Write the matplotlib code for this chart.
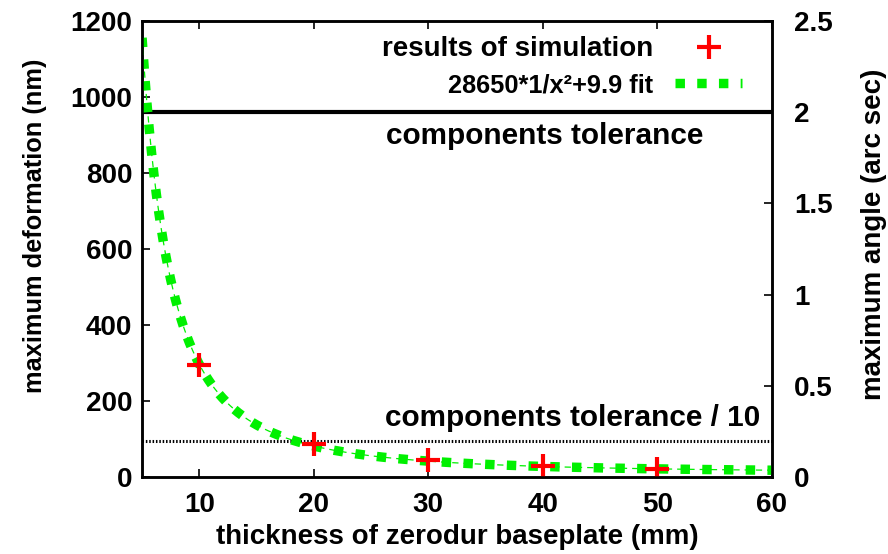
import numpy as np
import matplotlib
matplotlib.use("Agg")
import matplotlib.pyplot as plt

# simulation results
thickness_mm = [10, 20, 30, 40, 50]
deformation_nm = [295, 87, 45, 28, 21]

# fit reported in the legend: a/x^2 + b
fit_a = 28650
fit_b = 9.9
fit_range = (5, 60)

tolerance_nm = 960
nm_per_arcsec = 480

FS = 20
GREEN = "#00f000"
plt.rcParams.update({"font.family": ["Liberation Sans", "DejaVu Sans"],
                     "font.weight": "bold", "font.size": FS,
                     "axes.labelweight": "bold"})

fig = plt.figure(figsize=(8.88, 5.54), dpi=100)
ax = fig.add_axes([0.16, 0.139, 0.709, 0.823])

xf = np.linspace(fit_range[0], fit_range[1], 800)
yf = fit_a / xf**2 + fit_b

ax.axhline(tolerance_nm, color="black", linewidth=3, zorder=2)
ax.axhline(tolerance_nm / 10, color="black", linewidth=2.2,
           linestyle=(0, (0.5, 0.6)), zorder=2)
ax.text(40.2, tolerance_nm - 25, "components tolerance", ha="center", va="top",
        fontsize=21.4)
ax.text(59, tolerance_nm / 10 + 22, "components tolerance / 10",
        ha="right", va="bottom", fontsize=21.4)

ax.plot(xf, yf, color=GREEN, linewidth=0.9, linestyle=(0, (5, 4)), zorder=3)
ax.plot(xf, yf, color=GREEN, linewidth=6.8, linestyle=(0, (1, 1.3)),
        dash_capstyle="butt", zorder=3,
        label="28650*1/x\u00b2+9.9 fit")
ax.plot(thickness_mm, deformation_nm, "+", color="#ff0000", markersize=17,
        markeredgewidth=3, zorder=4, label="results of simulation")

ax.set_xlim(5, 60)
ax.set_ylim(0, 1200)
ax.set_xticks([10, 20, 30, 40, 50, 60])
ax.set_yticks(range(0, 1201, 200))
ax.tick_params(direction="in", length=6, width=1.2, top=True, right=False,
               pad=7)
ax.tick_params(axis="x", pad=11)
for s in ax.spines.values():
    s.set_linewidth(1.8)
ax.set_xlabel("thickness of zerodur baseplate (mm)", labelpad=4)
ax.set_ylabel("maximum deformation (nm)", fontsize=18.3)
ax.yaxis.set_label_coords(-0.151, 0.55)

ax2 = ax.twinx()
ax2.set_ylim(0, 1200 / nm_per_arcsec)
ax2.set_yticks([0, 0.5, 1, 1.5, 2, 2.5])
ax2.set_yticklabels(["0", "0.5", "1", "1.5", "2", "2.5"])
ax2.tick_params(direction="in", length=6, width=1.2, pad=16)
ax2.set_ylabel("maximum angle (arc sec)")
ax2.yaxis.set_label_coords(1.142, 0.533)
for s in ax2.spines.values():
    s.set_linewidth(1.8)

h, l = ax.get_legend_handles_labels()
leg = ax.legend(h[::-1], l[::-1], loc="upper right",
                bbox_to_anchor=(0.977, 1.0), frameon=False, markerfirst=False,
                borderaxespad=0.15, handlelength=2.4, handletextpad=0.8,
                labelspacing=0.4, fontsize=FS)
leg.get_texts()[1].set_fontsize(18.3)

fig.savefig("out.png", dpi=100)
